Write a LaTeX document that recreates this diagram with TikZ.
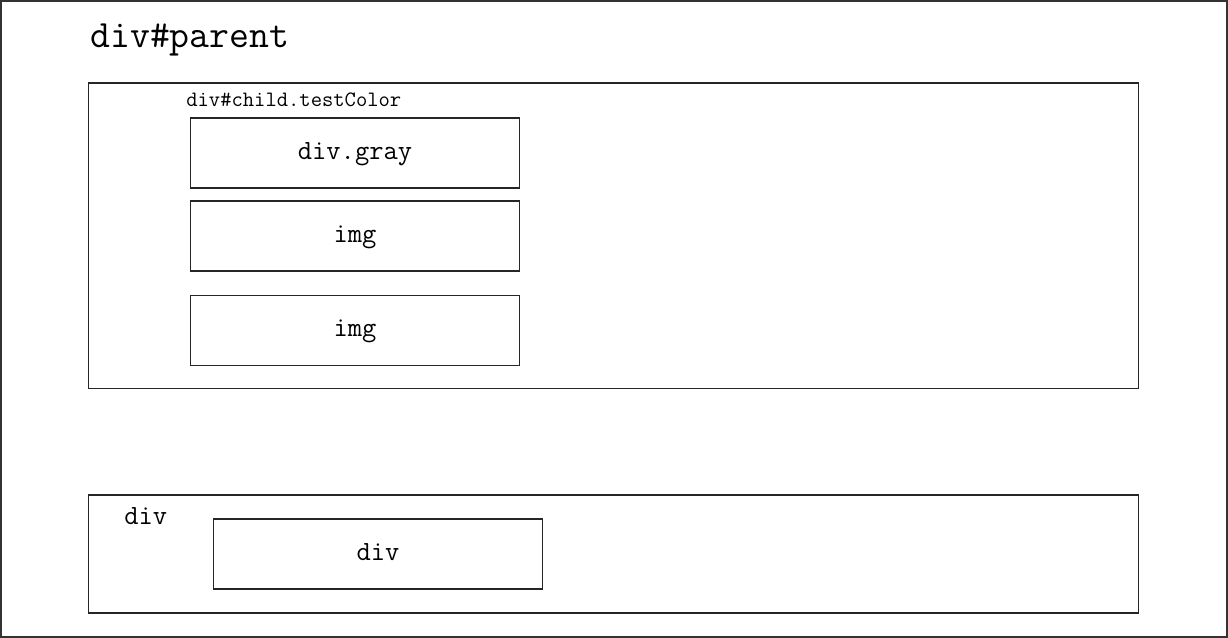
\documentclass[tikz,border=0pt]{standalone}
\usepackage{tikz}
\usetikzlibrary{positioning}
\tikzset{box/.style={draw=black!85, line width=.6pt, minimum width=6.58cm, minimum height=1.4cm, inner sep=0pt, text height=2.2ex, text depth=.6ex, font=\ttfamily\fontsize{15.8}{18}\selectfont},
    frame/.style={draw=black!85, line width=.6pt, inner sep=0pt, minimum width=21.02cm}}

\begin{document}
\begin{tikzpicture}[x=0.02cm, y=-0.02cm]
                 \useasboundingbox (0,0) rectangle (1228,638);
                 \draw[black!80, line width=.6pt] (1,1) rectangle (1227,637);
                 \node[anchor=base west, inner sep=0pt, font=\ttfamily\fontsize{22}{25}\selectfont] (parent) at (90,48) {div\#parent};

                 \node[frame, minimum height=6.12cm] (child) at (613.5,236) {};
                 \node[anchor=base west, inner sep=0pt, font=\ttfamily\fontsize{12.5}{14}\selectfont] (childlbl) at (186,107) {div\#child.testColor};
                 \node[box] (gray) at (355,153) {div.gray};
                 \node[box] (imga) at (355,236) {img};
                 \node[box] (imgb) at (355,330.5) {img};

                 \node[frame, minimum height=2.36cm] (lower) at (613.5,554) {};
                 \node[anchor=base west, inner sep=0pt, font=\ttfamily\fontsize{15.8}{18}\selectfont] (lowerlbl) at (124,525) {div};
                 \node[box] (inner) at (378,554) {div};
             \end{tikzpicture}
\end{document}
